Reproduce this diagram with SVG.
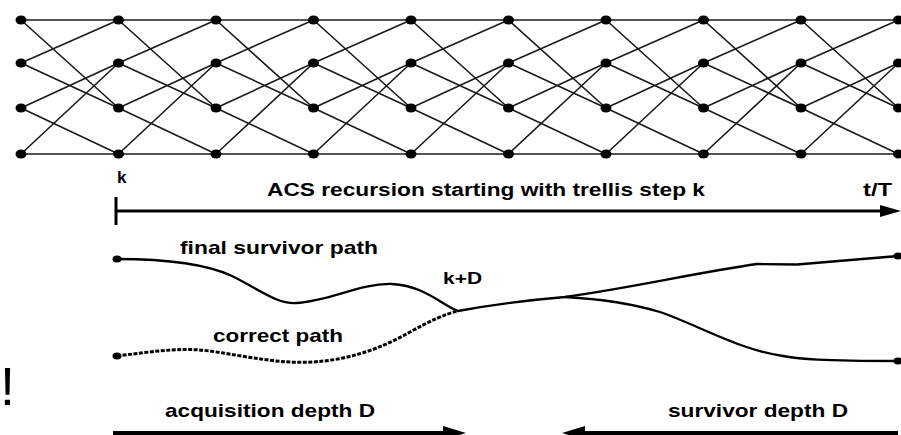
<svg xmlns="http://www.w3.org/2000/svg" xmlns:xlink="http://www.w3.org/1999/xlink" width="901" height="435" viewBox="0 0 901 435">
<style>
.tr{stroke:#1a1a1a;stroke-width:1.6;fill:none}
.lbl{font-family:"Liberation Sans",Arial,sans-serif;font-weight:bold;fill:#000}
.path{stroke:#000;stroke-width:2.3;fill:none;stroke-linejoin:round}
.dot{stroke:#000;stroke-width:3;fill:none;stroke-dasharray:4 1.5}
.ax{stroke:#000;stroke-width:3;fill:none}
</style>
<defs>
<ellipse id="nd" cx="0" cy="0" rx="5.5" ry="4.5" fill="#000"/>
<ellipse id="sd" cx="0" cy="0" rx="4.5" ry="3.5" fill="#000"/>
<g id="stage" class="tr">
<path d="M0 20L97.5 108M0 63L97.5 20M0 63L97.5 108M0 108L97.5 63M0 108L97.5 154M0 154L97.5 63"/>
</g>
</defs>
<rect width="901" height="435" fill="#fff"/>
<g id="connectors">
<g id="trellis-edges">
<path class="tr" d="M21 20H898.5M21 154H898.5"/>
<use xlink:href="#stage" x="21"/>
<use xlink:href="#stage" x="118.5"/>
<use xlink:href="#stage" x="216"/>
<use xlink:href="#stage" x="313.5"/>
<use xlink:href="#stage" x="411"/>
<use xlink:href="#stage" x="508.5"/>
<use xlink:href="#stage" x="606"/>
<use xlink:href="#stage" x="703.5"/>
<use xlink:href="#stage" x="801"/>
</g>
<g id="acs-axis">
<path class="ax" d="M116 197V225M116 211H884"/>
<polygon points="880,205 901,211 880,217" fill="#000"/>
</g>
<g id="survivor-path">
<path class="path" d="M117 259C150 259 200 261 232 276C262 291 277 304 296 303C330 301 360 283 392 284C425 286 440 304 458 311C490 305 530 300 565 297C630 288 700 272 757 264L797 264.5L898 256"/>
<path class="path" d="M565 297C600 299 630 303 660 312C700 326 740 350 783 356C800 359 820 361 898 361"/>
</g>
<g id="correct-path">
<path class="dot" d="M117 356C150 352 180 347 210 351C250 357 280 364 312 362C350 360 382 348 410 332C430 321 445 314 458 311"/>
</g>
<g id="depth-arrows">
<path class="ax" d="M113 433H448M898 433H580" style="stroke-width:4"/>
<polygon points="443,426 466,433 443,440" fill="#000"/>
<polygon points="585,426 562,433 585,440" fill="#000"/>
</g>
</g>
<g id="trellis-nodes">
<g id="n0"><use xlink:href="#nd" x="21" y="20"/><use xlink:href="#nd" x="21" y="63"/><use xlink:href="#nd" x="21" y="108"/><use xlink:href="#nd" x="21" y="154"/></g>
<g id="n1"><use xlink:href="#nd" x="118.5" y="20"/><use xlink:href="#nd" x="118.5" y="63"/><use xlink:href="#nd" x="118.5" y="108"/><use xlink:href="#nd" x="118.5" y="154"/></g>
<g id="n2"><use xlink:href="#nd" x="216" y="20"/><use xlink:href="#nd" x="216" y="63"/><use xlink:href="#nd" x="216" y="108"/><use xlink:href="#nd" x="216" y="154"/></g>
<g id="n3"><use xlink:href="#nd" x="313.5" y="20"/><use xlink:href="#nd" x="313.5" y="63"/><use xlink:href="#nd" x="313.5" y="108"/><use xlink:href="#nd" x="313.5" y="154"/></g>
<g id="n4"><use xlink:href="#nd" x="411" y="20"/><use xlink:href="#nd" x="411" y="63"/><use xlink:href="#nd" x="411" y="108"/><use xlink:href="#nd" x="411" y="154"/></g>
<g id="n5"><use xlink:href="#nd" x="508.5" y="20"/><use xlink:href="#nd" x="508.5" y="63"/><use xlink:href="#nd" x="508.5" y="108"/><use xlink:href="#nd" x="508.5" y="154"/></g>
<g id="n6"><use xlink:href="#nd" x="606" y="20"/><use xlink:href="#nd" x="606" y="63"/><use xlink:href="#nd" x="606" y="108"/><use xlink:href="#nd" x="606" y="154"/></g>
<g id="n7"><use xlink:href="#nd" x="703.5" y="20"/><use xlink:href="#nd" x="703.5" y="63"/><use xlink:href="#nd" x="703.5" y="108"/><use xlink:href="#nd" x="703.5" y="154"/></g>
<g id="n8"><use xlink:href="#nd" x="801" y="20"/><use xlink:href="#nd" x="801" y="63"/><use xlink:href="#nd" x="801" y="108"/><use xlink:href="#nd" x="801" y="154"/></g>
<g id="n9"><use xlink:href="#nd" x="898.5" y="20"/><use xlink:href="#nd" x="898.5" y="63"/><use xlink:href="#nd" x="898.5" y="108"/><use xlink:href="#nd" x="898.5" y="154"/></g>
</g>
<g id="path-ends">
<use xlink:href="#sd" x="117" y="259"/>
<use xlink:href="#sd" x="117" y="356"/>
<use xlink:href="#sd" x="898" y="256"/>
<use xlink:href="#sd" x="898" y="361"/>
</g>
<g id="labels">
<text class="lbl" x="117" y="183" font-size="17">k</text>
<text class="lbl" x="267" y="196" font-size="18" textLength="438" lengthAdjust="spacingAndGlyphs">ACS recursion starting with trellis step k</text>
<text class="lbl" x="863" y="196" font-size="18" textLength="29" lengthAdjust="spacingAndGlyphs">t/T</text>
<text class="lbl" x="180" y="254" font-size="19" textLength="198" lengthAdjust="spacingAndGlyphs">final survivor path</text>
<text class="lbl" x="443" y="284" font-size="16" textLength="39" lengthAdjust="spacingAndGlyphs">k+D</text>
<text class="lbl" x="213" y="342" font-size="19" textLength="130" lengthAdjust="spacingAndGlyphs">correct path</text>
<text class="lbl" x="165" y="417" font-size="19" textLength="210" lengthAdjust="spacingAndGlyphs">acquisition depth D</text>
<text class="lbl" x="668" y="417" font-size="19" textLength="180" lengthAdjust="spacingAndGlyphs">survivor depth D</text>
<text x="0" y="405" font-family="Liberation Sans,Arial,sans-serif" font-size="54" fill="#000">!</text>
</g>
</svg>
